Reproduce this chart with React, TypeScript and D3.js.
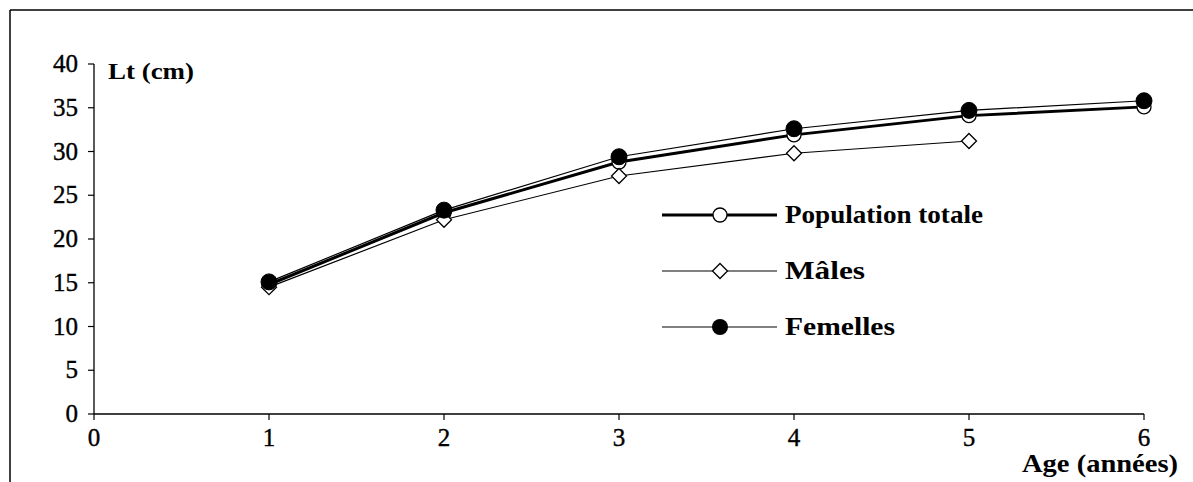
import React from "react";
import * as d3 from "d3";

const ages = [1, 2, 3, 4, 5, 6];
const totalValues = [14.8, 23.0, 28.8, 31.9, 34.1, 35.1];
const maleAges = [1, 2, 3, 4, 5];
const maleValues = [14.5, 22.2, 27.2, 29.8, 31.2];
const femaleValues = [15.1, 23.3, 29.4, 32.6, 34.7, 35.8];
const xTicks = [0, 1, 2, 3, 4, 5, 6];
const yTicks = [0, 5, 10, 15, 20, 25, 30, 35, 40];
const legendLabels = ["Population totale", "Mâles", "Femelles"];
const legendWidths = [198, 80, 110];

const W = 1193;
const H = 482;
const FONT = "'Liberation Serif', 'Times New Roman', serif";

export default function App() {
  const x = d3.scaleLinear().domain([0, 6]).range([94, 1144]);
  const y = d3.scaleLinear().domain([0, 40]).range([414, 64]);
  const line = d3
    .line<[number, number]>()
    .x((d) => x(d[0]))
    .y((d) => y(d[1]));

  const totalPts: [number, number][] = ages.map((a, i) => [a, totalValues[i]]);
  const malePts: [number, number][] = maleAges.map((a, i) => [a, maleValues[i]]);
  const femalePts: [number, number][] = ages.map((a, i) => [a, femaleValues[i]]);

  const diamond = (cx: number, cy: number, r: number) =>
    `M${cx},${cy - r}L${cx + r},${cy}L${cx},${cy + r}L${cx - r},${cy}Z`;

  const legendY = [215, 271, 327];
  const legX1 = 662;
  const legX2 = 777;
  const legM = 720;

  return (
    <svg
      width={W}
      height={H}
      style={{ position: "absolute", left: 0, top: 0, background: "#fff" }}
    >
      <rect x={0} y={0} width={W} height={H} fill="#fff" />
      {/* frame */}
      <line x1={10} y1={10} x2={W} y2={10} stroke="#000" strokeWidth={1.5} />
      <line x1={10} y1={10} x2={10} y2={H} stroke="#000" strokeWidth={1.5} />

      {/* axes */}
      <line x1={x(0)} y1={y(0)} x2={x(6)} y2={y(0)} stroke="#000" strokeWidth={1.3} />
      <line x1={x(0)} y1={y(0)} x2={x(0)} y2={y(40)} stroke="#000" strokeWidth={1.3} />
      {yTicks.map((t) => (
        <g key={"y" + t}>
          <line x1={x(0) - 6} x2={x(0)} y1={y(t)} y2={y(t)} stroke="#000" strokeWidth={1.2} />
          <text
            x={78}
            y={y(t) + 8}
            textAnchor="end"
            fontFamily={FONT}
            fontSize={25}
            fill="#000"
            stroke="#000"
            strokeWidth={0.4}
          >
            {t}
          </text>
        </g>
      ))}
      {xTicks.map((t) => (
        <g key={"x" + t}>
          <line x1={x(t)} x2={x(t)} y1={y(0)} y2={y(0) + 6} stroke="#000" strokeWidth={1.2} />
          <text
            x={x(t)}
            y={446}
            textAnchor="middle"
            fontFamily={FONT}
            fontSize={25}
            fill="#000"
            stroke="#000"
            strokeWidth={0.4}
          >
            {t}
          </text>
        </g>
      ))}
      <text
        x={108}
        y={79}
        fontFamily={FONT}
        fontWeight="bold"
        fontSize={24}
        textLength={86}
        lengthAdjust="spacingAndGlyphs"
        fill="#000"
      >
        Lt (cm)
      </text>
      <text
        x={1022}
        y={472}
        fontFamily={FONT}
        fontWeight="bold"
        fontSize={25}
        textLength={156}
        lengthAdjust="spacingAndGlyphs"
        fill="#000"
      >
        Age (années)
      </text>

      {/* series lines */}
      <path d={line(totalPts) || ""} fill="none" stroke="#000" strokeWidth={3} />
      <path d={line(malePts) || ""} fill="none" stroke="#000" strokeWidth={1.2} />
      <path d={line(femalePts) || ""} fill="none" stroke="#000" strokeWidth={1.2} />

      {/* markers */}
      {totalPts.map((p, i) => (
        <circle key={"t" + i} cx={x(p[0])} cy={y(p[1])} r={7} fill="#fff" stroke="#000" strokeWidth={1.3} />
      ))}
      {malePts.map((p, i) => (
        <path key={"m" + i} d={diamond(x(p[0]), y(p[1]), 7.5)} fill="#fff" stroke="#000" strokeWidth={1.3} />
      ))}
      {femalePts.map((p, i) => (
        <circle key={"f" + i} cx={x(p[0])} cy={y(p[1])} r={8} fill="#000" stroke="#000" strokeWidth={1} />
      ))}

      {/* legend */}
      <g>
        <line x1={legX1} x2={legX2} y1={legendY[0]} y2={legendY[0]} stroke="#000" strokeWidth={3} />
        <circle cx={legM} cy={legendY[0]} r={7} fill="#fff" stroke="#000" strokeWidth={1.3} />
        <line x1={legX1} x2={legX2} y1={legendY[1]} y2={legendY[1]} stroke="#000" strokeWidth={1} />
        <path d={diamond(legM, legendY[1], 7.5)} fill="#fff" stroke="#000" strokeWidth={1.3} />
        <line x1={legX1} x2={legX2} y1={legendY[2]} y2={legendY[2]} stroke="#000" strokeWidth={1} />
        <circle cx={legM} cy={legendY[2]} r={8} fill="#000" />
        {legendLabels.map((l, i) => (
          <text
            key={l}
            x={785}
            y={legendY[i] + 8}
            fontFamily={FONT}
            fontWeight="bold"
            fontSize={25}
            textLength={legendWidths[i]}
            lengthAdjust="spacingAndGlyphs"
            fill="#000"
          >
            {l}
          </text>
        ))}
      </g>
    </svg>
  );
}
